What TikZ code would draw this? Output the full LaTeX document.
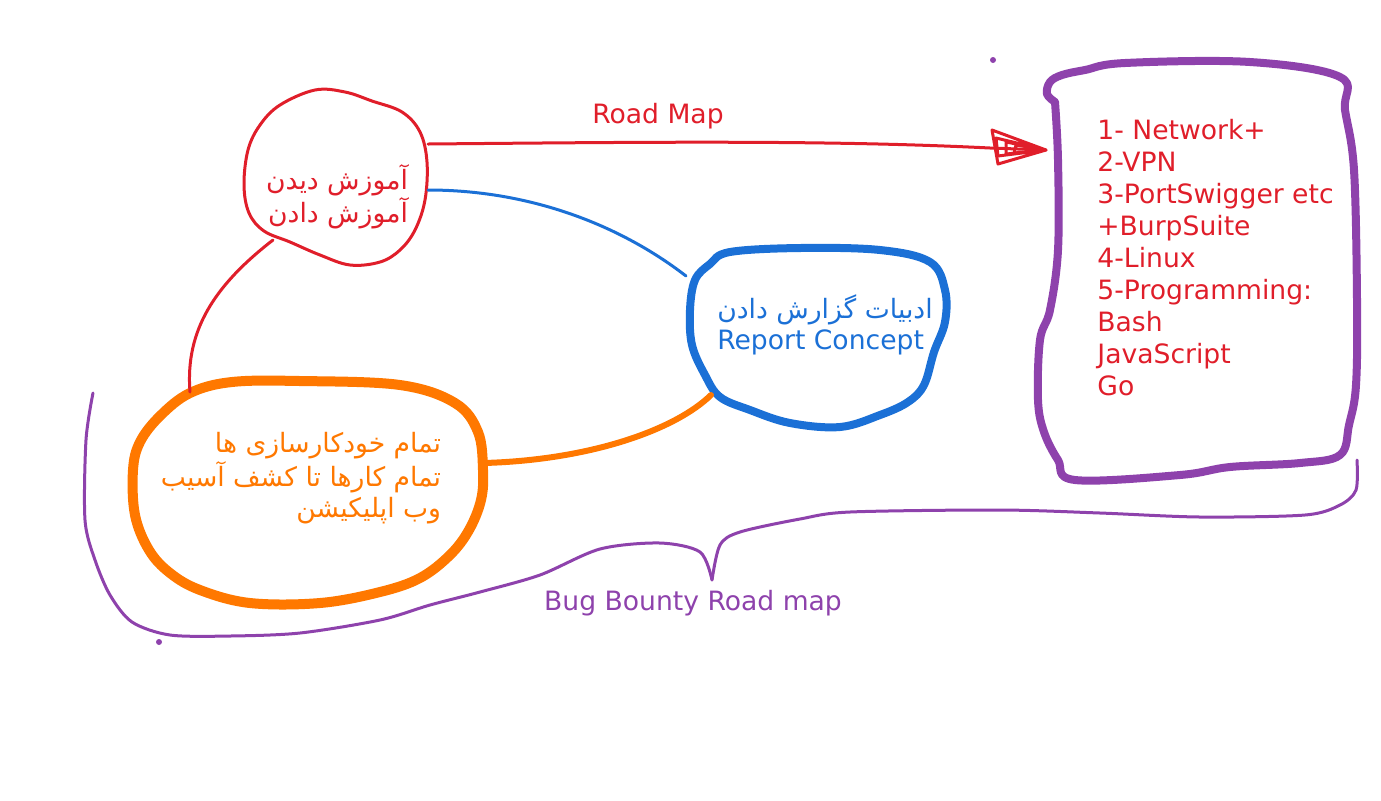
\documentclass[tikz,border=0pt]{standalone}
\usepackage{fontspec}
\setmainfont{DejaVu Sans}
\newfontfamily\arabicfont[Script=Arabic]{DejaVu Sans}
\TeXXeTstate=1
\definecolor{inkred}{RGB}{224,30,42}
\definecolor{inkblue}{RGB}{27,112,214}
\definecolor{inkorange}{RGB}{255,120,0}
\definecolor{inkpurple}{RGB}{142,66,172}

\begin{document}
\begin{tikzpicture}[x=0.5pt, y=-0.5pt, line cap=round, line join=round,
    ink/.style={line width=1.5pt},
    thickink/.style={line width=4pt},
    fatink/.style={line width=5pt},
    fa/.style={font=\arabicfont\fontsize{13.3}{15.5}\selectfont, inner sep=0pt},
    en/.style={font=\fontsize{13.3}{16}\selectfont, inner sep=0pt}]
    \useasboundingbox (0,0) rectangle (1381,800);

    % blobs
    \draw[inkred, ink] plot[smooth cycle, tension=0.6] coordinates {(280,105) (315,90) (345,92) (372,101) (402,112) (420,132) (427,162) (425,200) (415,230) (400,250) (380,262) (350,265) (320,255) (290,242) (264,231) (249,213) (244,185) (248,150) (260,125)};
    \draw[inkblue, thickink] plot[smooth cycle, tension=0.6] coordinates {(730,252) (800,248) (880,250) (930,262) (945,290) (945,322) (934,352) (924,385) (908,402) (880,415) (840,427) (790,423) (750,410) (720,397) (705,375) (692,345) (690,310) (695,280) (710,264)};
    \draw[inkorange, fatink] plot[smooth cycle, tension=0.6] coordinates {(190,393) (232,382) (300,381) (400,385) (455,403) (478,432) (483,470) (481,500) (469,530) (450,555) (420,578) (380,592) (320,603) (250,603) (200,590) (170,573) (149,550) (135,515) (133,470) (140,442) (160,416)};
    \draw[inkpurple, thickink] plot[smooth, tension=0.6] coordinates {(1055,102) (1047,94) (1050,82) (1062,75) (1085,70) (1125,63) (1250,62) (1340,77) (1345,110) (1354,170) (1357,300) (1356,385) (1349,425) (1340,455) (1300,463) (1230,467) (1180,475) (1075,480) (1058,460) (1044,432) (1038,400) (1040,340) (1050,310) (1058,250) (1058,160) (1055,102)};

    % texts
    \node at (337,197) [fa, text=inkred, align=right] (learn) {\beginR آموزش دیدن\endR\\\beginR آموزش دادن\endR};
    \node at (825,325) [fa, text=inkblue, align=left] (report) {\beginR ادبیات گزارش دادن\endR\\{\fontspec{DejaVu Sans}Report Concept}};
    \node at (301,478) [fa, text=inkorange, align=right] (auto) {\beginR تمام خودکارسازی ها\endR\\\beginR تمام کارها تا کشف آسیب\endR\\\beginR وب اپلیکیشن\endR};
    \node at (1097,258) [en, text=inkred, align=left, anchor=west] (list) {1- Network+\\2-VPN\\3-PortSwigger etc\\+BurpSuite\\4-Linux\\5-Programming:\\Bash\\JavaScript\\Go};
    \node at (658,116) [en, text=inkred] (roadlbl) {Road Map};
    \node at (693,603) [en, text=inkpurple] (bountylbl) {Bug Bounty Road map};

    % ends of the connectors on the blobs
    \coordinate (learnE) at (428,144);
    \coordinate (learnR) at (428,190);
    \coordinate (learnS) at (273,240);
    \coordinate (listW) at (1046,150);
    \coordinate (reportW) at (686,276);
    \coordinate (reportSW) at (711,395);
    \coordinate (autoN) at (190,392);
    \coordinate (autoE) at (484,463);

    \draw[inkred, ink] (learnE) .. controls (650,142) and (830,140) .. (990,148) -- (listW);
    % scribbled head
    \draw[inkred, ink] (listW) -- ++(-54,-20) -- ++(6,34) -- (listW) -- ++(-50,-12) -- ++(2,18) -- (listW)
        -- ++(-40,-8) -- ++(0,12) -- (listW) -- ++(-30,-5) -- ++(-2,8) -- (listW);
    \draw[inkblue, ink] (learnR) .. controls (530,190) and (620,225) .. (reportW);
    \draw[inkred, ink] (learnS) .. controls (215,285) and (185,330) .. (autoN);
    \draw[inkorange, line width=3pt] (autoE) .. controls (590,460) and (675,430) .. (reportSW);

    % brace under everything
    \draw[inkpurple, ink] plot[smooth, tension=0.5] coordinates {(93,393) (86,440) (85,520) (95,560) (110,595) (132,622) (170,635) (230,636) (300,633) (380,620) (430,605) (480,592) (540,575) (600,549) (660,543) (700,552) (712,580)};
    \draw[inkpurple, ink] plot[smooth, tension=0.5] coordinates {(712,580) (720,545) (740,532) (800,519) (850,512) (1000,510) (1100,513) (1200,517) (1305,515) (1340,505) (1356,490) (1357,460)};
    \fill[inkpurple] (993,60) circle (1.5pt);
    \fill[inkpurple] (159,642) circle (1.5pt);
\end{tikzpicture}
\end{document}
